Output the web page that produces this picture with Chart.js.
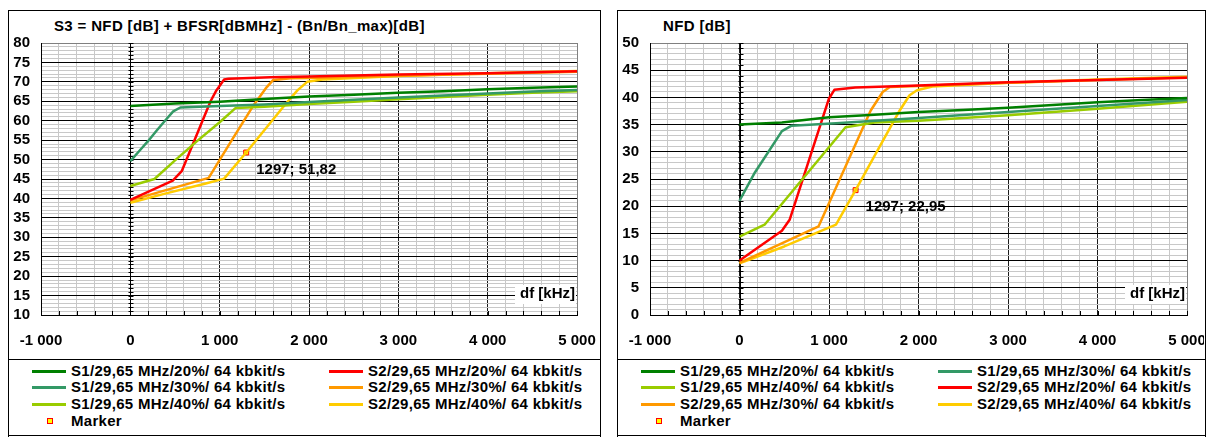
<!DOCTYPE html>
<html>
<head>
<meta charset="utf-8">
<script src="https://cdn.jsdelivr.net/npm/chart.js@4.4.0/dist/chart.umd.min.js"></script>
<style>
body{margin:0;width:1208px;height:437px;overflow:hidden;position:relative;background:#fff;
  font-family:"Liberation Sans",Arial,sans-serif;font-weight:bold;color:#000;}
.panel{position:absolute;top:10px;height:426px;border:1px solid #000;box-sizing:border-box;}
.panel canvas{position:absolute;left:0;top:0;}
.title{position:absolute;top:6px;font-size:15px;line-height:18px;white-space:nowrap;letter-spacing:0.35px;}
.legend{position:absolute;left:0;right:0;top:348px;bottom:0;border-top:1px solid #000;}
.item{position:absolute;font-size:15px;line-height:16px;white-space:nowrap;letter-spacing:0.3px;}
.item .ln{position:absolute;top:7px;height:3px;}
.item .mk{position:absolute;top:5px;width:4px;height:4px;border:1px solid #ff0000;background:#ffff00;}
.tail{position:absolute;top:436px;height:1px;border-left:1px solid #000;border-right:1px solid #000;box-sizing:border-box;}
</style>
</head>
<body>
<div class="panel" id="p1" style="left:8px;width:593px">
  <div class="title" style="left:45px">S3 = NFD [dB] + BFSR[dBMHz] - (Bn/Bn_max)[dB]</div>
  <canvas id="c1" width="590" height="347"></canvas>
  <div class="legend" id="l1"></div>
</div>
<div class="tail" style="left:8px;width:593px"></div>
<div class="panel" id="p2" style="left:617px;width:589px">
  <div class="title" style="left:45px">NFD [dB]</div>
  <canvas id="c2" width="586" height="347"></canvas>
  <div class="legend" id="l2"></div>
</div>
<div class="tail" style="left:617px;width:589px"></div>
<script>
// series names and colours
const names = ['S1/29,65 MHz/20%/ 64 kbkit/s', 'S1/29,65 MHz/30%/ 64 kbkit/s', 'S1/29,65 MHz/40%/ 64 kbkit/s',
               'S2/29,65 MHz/20%/ 64 kbkit/s', 'S2/29,65 MHz/30%/ 64 kbkit/s', 'S2/29,65 MHz/40%/ 64 kbkit/s'];
const colors = ['#008000', '#339966', '#99cc00', '#ff0000', '#ff9900', '#ffcc00'];

// left chart: S3 [dB] vs df [kHz]
const s3_S1_20_x = [0, 500, 1000, 1500, 2000, 2500, 3000, 3500, 4000, 4500, 5000];
const s3_S1_20_y = [63.8, 64.4, 64.9, 65.6, 66.2, 66.7, 67.2, 67.6, 68.1, 68.5, 68.8];
const s3_S1_30_x = [0, 100, 200, 300, 400, 480, 560, 700, 1000, 1500, 2000, 2500, 3000, 3500, 4000, 4500, 5000];
const s3_S1_30_y = [49.6, 52.2, 54.8, 57.6, 60.3, 62.4, 63.4, 63.5, 63.8, 64.2, 64.8, 65.4, 66.0, 66.5, 67.0, 67.5, 67.9];
const s3_S1_40_x = [0, 270, 500, 750, 1000, 1180, 1500, 2000, 2500, 3000, 3500, 4000, 4500, 5000];
const s3_S1_40_y = [43.2, 45.0, 49.8, 54.8, 59.6, 63.3, 63.6, 64.3, 64.9, 65.5, 66.1, 66.7, 67.2, 67.6];
const s3_S2_20_x = [0, 475, 575, 898, 963, 1050, 1100, 1568, 2000, 3000, 4000, 5000];
const s3_S2_20_y = [39.6, 44.6, 47.0, 65.0, 67.8, 70.6, 70.8, 71.2, 71.4, 71.9, 72.2, 72.7];
const s3_S2_30_x = [0, 877, 1136, 1380, 1525, 1600, 1800, 2000, 3000, 4000, 5000];
const s3_S2_30_y = [39.5, 45.3, 55.0, 64.0, 68.6, 70.5, 70.9, 71.0, 71.6, 72.1, 72.6];
const s3_S2_40_x = [0, 400, 834, 1050, 1297, 1720, 1870, 1980, 2150, 3000, 4000, 5000];
const s3_S2_40_y = [38.9, 41.3, 43.8, 45.1, 51.82, 63.8, 67.8, 70.0, 70.6, 71.5, 72.2, 72.8];
const s3_marker = [1297, 51.82];

// right chart: NFD [dB] vs df [kHz]
const nfd_S1_20_x = [0, 474, 1000, 1509, 2000, 2500, 3000, 3500, 4000, 4500, 5000];
const nfd_S1_20_y = [35.0, 35.4, 36.35, 36.8, 37.3, 37.7, 38.1, 38.6, 39.1, 39.5, 39.9];
const nfd_S1_30_x = [0, 172, 474, 582, 1078, 2000, 3000, 4000, 5000];
const nfd_S1_30_y = [21.0, 26.2, 33.8, 34.8, 35.25, 36.2, 37.3, 38.4, 39.5];
const nfd_S1_40_x = [0, 280, 1185, 1509, 2000, 3000, 4000, 5000];
const nfd_S1_40_y = [14.4, 16.6, 34.5, 35.4, 35.7, 36.7, 37.9, 39.2];
const nfd_S2_20_x = [0, 474, 560, 1000, 1060, 1293, 2000, 3000, 4000, 5000];
const nfd_S2_20_y = [10.0, 15.5, 17.5, 39.8, 41.4, 41.8, 42.2, 42.8, 43.2, 43.6];
const nfd_S2_30_x = [0, 884, 1466, 1600, 1680, 2000, 3000, 4000, 5000];
const nfd_S2_30_y = [9.6, 16.3, 37.6, 41.0, 41.9, 42.1, 42.7, 43.2, 43.7];
const nfd_S2_40_x = [0, 500, 1078, 1297, 1790, 1900, 1983, 2155, 3000, 4000, 5000];
const nfd_S2_40_y = [9.5, 12.6, 16.6, 22.95, 37.6, 40.4, 41.3, 42.0, 42.7, 43.3, 43.8];
const nfd_marker = [1297, 22.95];

const xMin = -1000, xMax = 5000;

Chart.defaults.font.family = '"Liberation Sans", Arial, sans-serif';
Chart.defaults.font.weight = 'bold';
Chart.defaults.font.size = 15;
Chart.defaults.color = '#000';

function fmt(v) {
  return String(v).replace(/\B(?=(\d{3})+(?!\d))/g, ' ');
}
function pts(xs, ys) {
  return xs.map((x, i) => ({x: x, y: ys[i]}));
}

const extras = {
  id: 'extras',
  beforeDatasetsDraw(chart) {
    const {ctx, chartArea: a, scales: {x, y}} = chart;
    ctx.save();
    // df [kHz] label with white box
    ctx.font = 'bold 15px "Liberation Sans", Arial, sans-serif';
    const t = 'df [kHz]';
    const w = ctx.measureText(t).width;
    const cy = a.bottom - 21;
    ctx.fillStyle = '#fff';
    ctx.fillRect(a.right - w - 7, cy - 9, w + 6, 19);
    ctx.fillStyle = '#000';
    ctx.textAlign = 'right';
    ctx.textBaseline = 'middle';
    ctx.fillText(t, a.right - 2, cy);
    // vertical axis at df = 0 with minor ticks, and bottom ticks
    const x0 = Math.round(x.getPixelForValue(0)) + 0.5;
    ctx.strokeStyle = '#000';
    ctx.lineWidth = 1;
    ctx.beginPath();
    ctx.moveTo(x0, a.top);
    ctx.lineTo(x0, a.bottom);
    for (let v = y.min; v <= y.max; v++) {
      const py = Math.round(y.getPixelForValue(v)) + 0.5;
      ctx.moveTo(x0 - 2, py);
      ctx.lineTo(x0 + 3, py);
    }
    for (let v = xMin; v <= xMax; v += 200) {
      const px = Math.round(x.getPixelForValue(v)) + 0.5;
      ctx.moveTo(px, a.bottom);
      ctx.lineTo(px, a.bottom - 4);
    }
    ctx.stroke();
    ctx.restore();
  },
  afterDatasetsDraw(chart) {
    const ds = chart.data.datasets[6];
    const p = chart.getDatasetMeta(6).data[0];
    const d = ds.data[0];
    const {ctx} = chart;
    ctx.save();
    ctx.font = 'bold 15px "Liberation Sans", Arial, sans-serif';
    ctx.fillStyle = '#000';
    ctx.textBaseline = 'middle';
    ctx.fillText(d.x + '; ' + String(d.y).replace('.', ','), p.x + 10, p.y + 17);
    ctx.restore();
  }
};

function makeChart(id, series, marker, yMin, yMax, padRight) {
  const datasets = series.map((s, i) => ({
    label: names[i],
    data: pts(s[0], s[1]),
    borderColor: colors[i],
    backgroundColor: colors[i],
    borderWidth: 2.5,
    pointRadius: 0,
    tension: 0,
    borderJoinStyle: 'round',
    fill: false
  }));
  datasets.push({
    label: 'Marker',
    data: [{x: marker[0], y: marker[1]}],
    showLine: false,
    pointStyle: 'rect',
    pointRadius: 3.5,
    pointBorderWidth: 1,
    pointBorderColor: '#ff0000',
    pointBackgroundColor: '#ffff00'
  });
  return new Chart(document.getElementById(id), {
    type: 'line',
    data: {datasets: datasets},
    options: {
      responsive: false,
      animation: false,
      events: [],
      layout: {padding: {left: 0, right: padRight, top: 32, bottom: 0}},
      plugins: {legend: {display: false}, tooltip: {enabled: false}},
      scales: {
        x: {
          type: 'linear', min: xMin, max: xMax,
          afterFit: s => { s.height = 43; s.paddingLeft = 0; s.paddingRight = 0; },
          border: {display: true, color: '#000'},
          grid: {
            drawTicks: false,
            color: c => c.tick.value === xMax ? '#808080' : (c.tick.value % 1000 === 0 ? '#1a1a1a' : '#c8c8c8')
          },
          ticks: {
            stepSize: 200, autoSkip: false, maxRotation: 0, padding: 17,
            callback: v => (v % 1000 === 0 ? fmt(v) : '')
          }
        },
        y: {
          min: yMin, max: yMax,
          afterFit: s => { s.width = 32; },
          border: {display: true, color: '#000'},
          grid: {
            drawTicks: false,
            color: c => c.tick.value === yMax ? '#808080' : (c.tick.value % 5 === 0 ? '#000' : '#c8c8c8')
          },
          ticks: {
            stepSize: 1, autoSkip: false, padding: 11,
            callback: v => (v % 5 === 0 ? v : '')
          }
        }
      }
    },
    plugins: [extras]
  });
}

makeChart('c1', [[s3_S1_20_x, s3_S1_20_y], [s3_S1_30_x, s3_S1_30_y], [s3_S1_40_x, s3_S1_40_y],
                 [s3_S2_20_x, s3_S2_20_y], [s3_S2_30_x, s3_S2_30_y], [s3_S2_40_x, s3_S2_40_y]],
          s3_marker, 10, 80, 22);
makeChart('c2', [[nfd_S1_20_x, nfd_S1_20_y], [nfd_S1_30_x, nfd_S1_30_y], [nfd_S1_40_x, nfd_S1_40_y],
                 [nfd_S2_20_x, nfd_S2_20_y], [nfd_S2_30_x, nfd_S2_30_y], [nfd_S2_40_x, nfd_S2_40_y]],
          nfd_marker, 0, 50, 17);

// legends (row-major, two columns)
const legendOrder1 = [0, 3, 1, 4, 2, 5, 'm'];
const legendOrder2 = [0, 1, 2, 3, 4, 5, 'm'];
function buildLegend(id, order) {
  const box = document.getElementById(id);
  order.forEach((k, i) => {
    const row = Math.floor(i / 2), col = i % 2;
    const el = document.createElement('div');
    el.className = 'item';
    el.style.left = (col === 0 ? 23 : 320) + 'px';
    el.style.top = (2.7 + row * 16.7) + 'px';
    if (k === 'm') {
      el.innerHTML = '<span class="mk" style="left:15px"></span><span style="margin-left:39px">Marker</span>';
    } else {
      el.innerHTML = '<span class="ln" style="left:0;width:34px;background:' + colors[k] + '"></span>' +
                     '<span style="margin-left:39px">' + names[k] + '</span>';
    }
    box.appendChild(el);
  });
}
buildLegend('l1', legendOrder1);
buildLegend('l2', legendOrder2);
</script>
</body>
</html>
